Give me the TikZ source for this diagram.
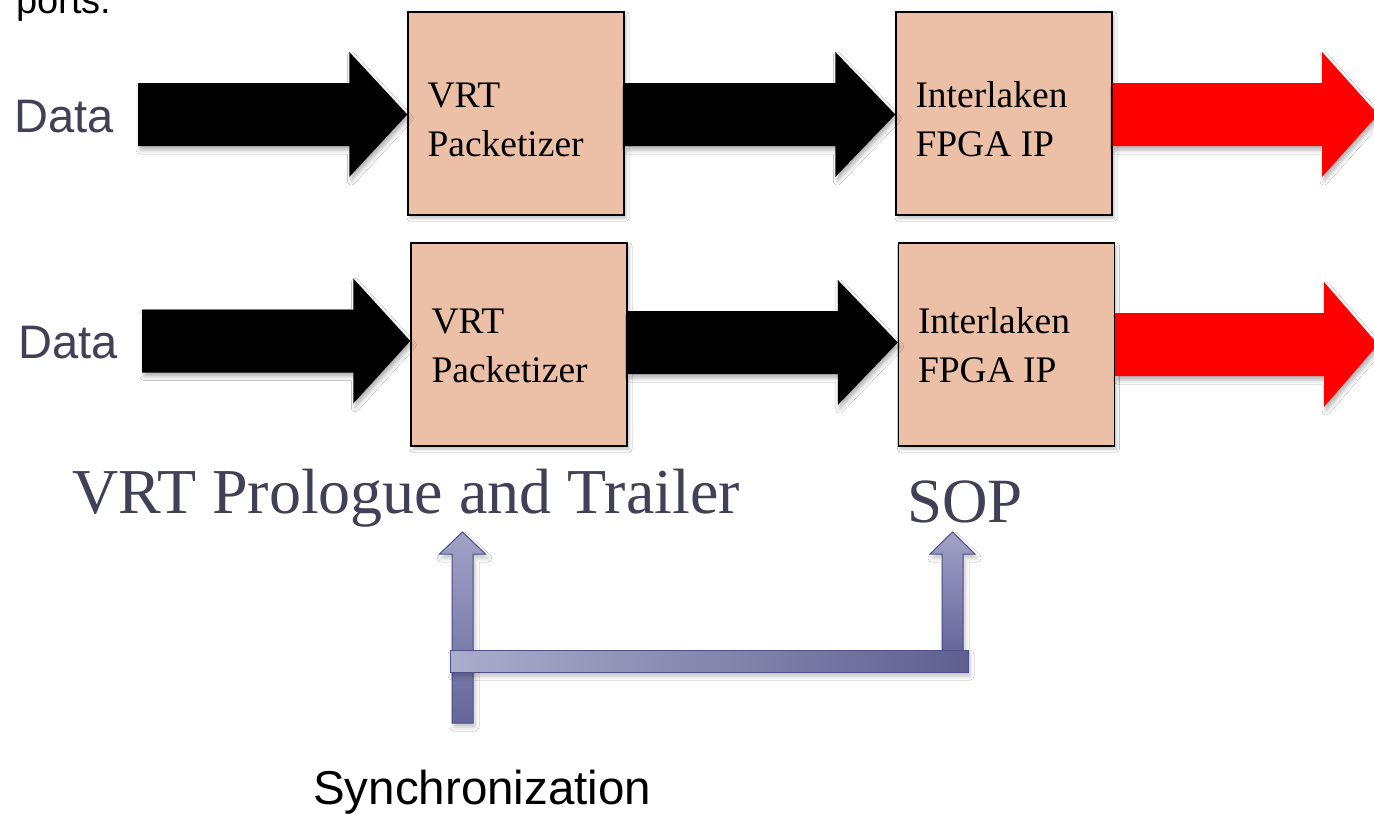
\documentclass[tikz,border=0pt]{standalone}
\usepackage{fontspec}
\setmainfont{Liberation Serif}
\newfontfamily\arialf{Liberation Sans}
\usetikzlibrary{calc,shadows.blur}
\definecolor{boxfill}{RGB}{235,192,167}
\definecolor{slategray}{RGB}{64,64,86}
\definecolor{purpL}{RGB}{162,162,200}
\definecolor{purpD}{RGB}{102,102,154}
\definecolor{purpBorder}{RGB}{78,78,138}
\definecolor{barL}{RGB}{172,172,204}
\definecolor{barD}{RGB}{96,96,144}
\tikzset{
  procbox/.style={draw=black, line width=1.4pt, fill=boxfill, minimum width=216pt, minimum height=203pt, inner sep=0pt,
    blur shadow={shadow xshift=2pt, shadow yshift=-3pt, shadow blur radius=3pt, shadow opacity=25}},
  boxtext/.style={anchor=base west, inner sep=0pt, font=\fontsize{37.5}{44}\selectfont},
  datalabel/.style={anchor=base west, inner sep=0pt, text=slategray, font=\arialf\fontsize{47}{56}\selectfont},
  bigserif/.style={anchor=base west, inner sep=0pt, text=slategray, font=\fontsize{64}{76}\selectfont},
  blackarrow/.style={fill=black, blur shadow={shadow xshift=2pt, shadow yshift=-4pt, shadow blur radius=4pt, shadow opacity=30}},
  redarrow/.style={fill=red, blur shadow={shadow xshift=2pt, shadow yshift=-4pt, shadow blur radius=4pt, shadow opacity=30}},
  syncarrow/.style={draw=purpBorder, line width=1pt, top color=purpL, bottom color=purpD,
    blur shadow={shadow xshift=2pt, shadow yshift=-4pt, shadow blur radius=4pt, shadow opacity=25}},
  syncbar/.style={draw=purpBorder, line width=1pt, left color=barL, right color=barD,
    blur shadow={shadow xshift=2pt, shadow yshift=-4pt, shadow blur radius=4pt, shadow opacity=25}}
}
% horizontal block arrow: style, tail, tip, shaft half, head half, head length
\newcommand\hblockarr[6]{\path[#1] let \p1=(#2), \p2=(#3) in
  (\x1,\y1+#4pt) -- (\x2-#6pt,\y1+#4pt) -- (\x2-#6pt,\y1+#5pt) -- (\x2,\y1)
  -- (\x2-#6pt,\y1-#5pt) -- (\x2-#6pt,\y1-#4pt) -- (\x1,\y1-#4pt) -- cycle;}
% vertical (upward) block arrow
\newcommand\vblockarr[6]{\path[#1] let \p1=(#2), \p2=(#3) in
  (\x1-#4pt,\y1) -- (\x1-#4pt,\y2-#6pt) -- (\x1-#5pt,\y2-#6pt) -- (\x1,\y2)
  -- (\x1+#5pt,\y2-#6pt) -- (\x1+#4pt,\y2-#6pt) -- (\x1+#4pt,\y1) -- cycle;}
\begin{document}
\begin{tikzpicture}[x=1pt,y=-1pt]
\useasboundingbox (0,0) rectangle (1374,814);
\clip (0,0) rectangle (1374,814);
\fill[white] (0,0) rectangle (1374,814);

% cropped heading text (cut at the top edge, as in the reference)
\node[anchor=base west, inner sep=0pt, font=\arialf\fontsize{38}{44}\selectfont] (ports) at (16,13) {ports.};

% labels
\node[datalabel] (data1) at (14,132) {Data};
\node[datalabel] (data2) at (18,358) {Data};
\coordinate (t1) at (138,114.5);
\coordinate (t2) at (142,341);

% boxes
\node[procbox] (vrt1) at (516,113.5) {};
\node[procbox] (il1) at (1004,113.5) {};
\node[procbox] (vrt2) at (519,344.5) {};
\node[procbox] (il2) at (1006.5,344.5) {};

\node[boxtext] (vrt1a) at ($(vrt1.north west)+(20,96)$) {VRT};
\node[boxtext] (vrt1b) at ($(vrt1.north west)+(20,145)$) {Packetizer};
\node[boxtext] (il1a) at ($(il1.north west)+(20,96)$) {Interlaken};
\node[boxtext] (il1b) at ($(il1.north west)+(20,145)$) {FPGA IP};
\node[boxtext] (vrt2a) at ($(vrt2.north west)+(21,91)$) {VRT};
\node[boxtext] (vrt2b) at ($(vrt2.north west)+(21,140)$) {Packetizer};
\node[boxtext] (il2a) at ($(il2.north west)+(20,91)$) {Interlaken};
\node[boxtext] (il2b) at ($(il2.north west)+(20,140)$) {FPGA IP};

% arrows row 1
\coordinate (out1) at (1378,114.5);
\hblockarr{blackarrow}{t1}{vrt1.west}{31.5}{62.5}{58}
\hblockarr{blackarrow}{$(vrt1.east)+(0,1)$}{il1.west}{31.5}{62.5}{60}
\hblockarr{redarrow}{$(il1.east)+(0,1)$}{out1}{31.5}{62.5}{56}
% arrows row 2
\coordinate (out2) at (1378,345);
\hblockarr{blackarrow}{t2}{vrt2.west}{31.5}{62.5}{57}
\hblockarr{blackarrow}{$(vrt2.east)+(0,-2)$}{il2.west}{31.5}{62.5}{60}
\hblockarr{redarrow}{il2.east}{out2}{31.5}{62.5}{54}

% bottom captions
\node[bigserif] (prologue) at (72,513) {VRT Prologue and Trailer};
\node[bigserif, font=\fontsize{63}{74}\selectfont] (sop) at (907,522) {SOP};
\node[anchor=base west, inner sep=0pt, font=\arialf\fontsize{47.5}{56}\selectfont] (sync) at (313,804) {Synchronization};

% synchronization arrows
\coordinate (lt) at (462.5,723);
\coordinate (lh) at (462.5,532);
\coordinate (rt) at (952.5,651);
\coordinate (rh) at (952.5,532);
\vblockarr{syncarrow}{lt}{lh}{10.5}{23}{22}
\vblockarr{syncarrow}{rt}{rh}{10.5}{22.5}{22}
\node[syncbar, minimum width=518pt, minimum height=22pt, inner sep=0pt] (bar) at (709,661) {};
\end{tikzpicture}
\end{document}
